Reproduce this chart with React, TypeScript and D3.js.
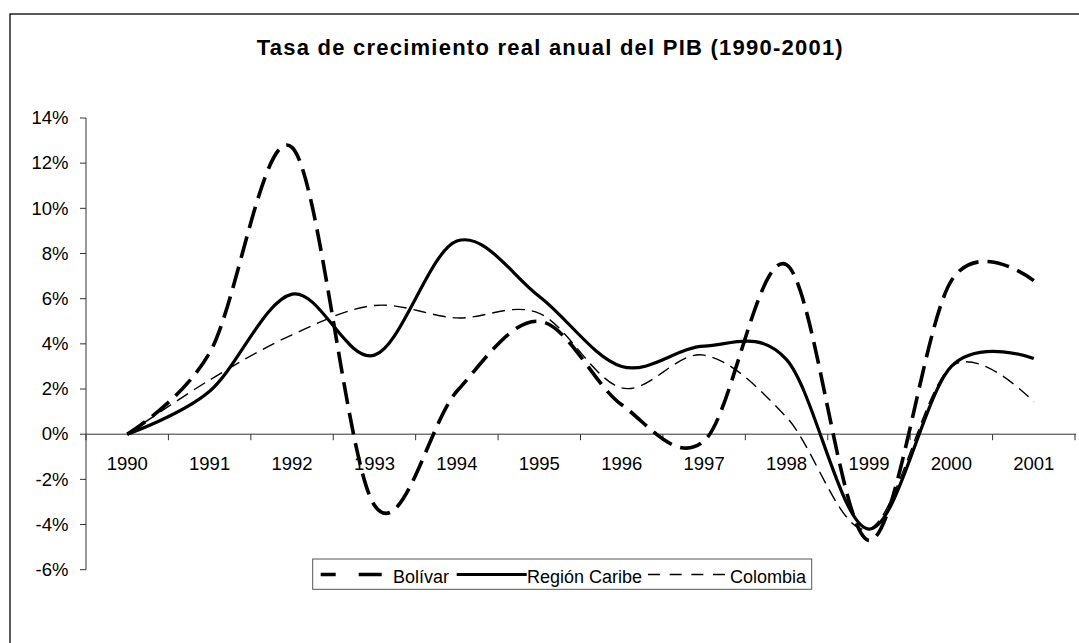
import React from "react";
import * as d3 from "d3";

const years = ["1990","1991","1992","1993","1994","1995","1996","1997","1998","1999","2000","2001"];
const bolivar = [0, 3.6, 12.7, -3.15, 1.9, 5.0, 1.3, -0.3, 7.5, -4.7, 6.8, 6.8];
const caribe = [0, 1.9, 6.2, 3.5, 8.55, 6.1, 3.0, 3.9, 3.3, -4.2, 3.0, 3.35];
const colombia = [0, 2.4, 4.4, 5.7, 5.15, 5.35, 2.05, 3.5, 0.75, -4.2, 3.0, 1.43];
const yTicks = [-6, -4, -2, 0, 2, 4, 6, 8, 10, 12, 14];
const seriesNames = ["Bolívar", "Región Caribe", "Colombia"];

const W = 1079, H = 643;
const FONT = "Arial, 'Liberation Sans', sans-serif";

export default function App() {
  const x = d3.scaleBand<string>().domain(years).range([86, 1075]);
  const y = d3.scaleLinear().domain([-6, 14]).range([569.7, 118]);
  const cx = (i: number) => (x(years[i]) as number) + x.bandwidth() / 2;
  const line = d3.line<number>().x((_, i) => cx(i)).y(d => y(d)).curve(d3.curveCatmullRom.alpha(0));
  const y0 = y(0);
  const boundaries = d3.range(years.length + 1).map(i => 86 + i * x.bandwidth());

  return (
    <svg width={W} height={H} style={{ position: "absolute", left: 0, top: 0, background: "#fff" }}>
      <rect x={10} y={14} width={1200} height={800} fill="#fff" stroke="#000" strokeWidth={1.3} />
      <text x={549.7} y={55} textAnchor="middle" fontFamily={FONT} fontWeight="bold" fontSize={22}
        textLength={586} lengthAdjust="spacing">Tasa de crecimiento real anual del PIB (1990-2001)</text>

      {/* y axis */}
      <line x1={86} x2={86} y1={y(14)} y2={y(-6)} stroke="#333" strokeWidth={1} />
      {yTicks.map(t => (
        <g key={t}>
          <line x1={80} x2={86} y1={y(t)} y2={y(t)} stroke="#333" strokeWidth={1} />
          <text x={68.5} y={y(t) + 6.3} textAnchor="end" fontFamily={FONT} fontSize={18.5} fill="#000">{t}%</text>
        </g>
      ))}

      {/* x axis at zero */}
      <line x1={86} x2={1076} y1={y0} y2={y0} stroke="#333" strokeWidth={1} />
      {boundaries.map((b, i) => (
        <line key={i} x1={b} x2={b} y1={y0} y2={y0 + 6} stroke="#333" strokeWidth={1} />
      ))}
      {years.map((yr, i) => (
        <text key={yr} x={cx(i)} y={469.5} textAnchor="middle" fontFamily={FONT} fontSize={18.5} fill="#000">{yr}</text>
      ))}

      {/* series */}
      <path d={line(colombia) || ""} fill="none" stroke="#000" strokeWidth={1.4} strokeDasharray="13 7" />
      <path d={line(caribe) || ""} fill="none" stroke="#000" strokeWidth={3.2} strokeLinejoin="round" />
      <path d={line(bolivar) || ""} fill="none" stroke="#000" strokeWidth={3.6} strokeDasharray="22 9" />

      {/* legend */}
      <rect x={312.7} y={559} width={499} height={30.3} fill="#fff" stroke="#555" strokeWidth={1} />
      <line x1={320.7} x2={381.7} y1={574.5} y2={574.5} stroke="#000" strokeWidth={3.6} strokeDasharray="15 23 30" />
      <text x={393} y={583} fontFamily={FONT} fontSize={18} fill="#000">{seriesNames[0]}</text>
      <line x1={456.7} x2={526.7} y1={574.5} y2={574.5} stroke="#000" strokeWidth={3.2} />
      <text x={527} y={583} fontFamily={FONT} fontSize={18} fill="#000">{seriesNames[1]}</text>
      <line x1={648} x2={725} y1={574.5} y2={574.5} stroke="#000" strokeWidth={1.4} strokeDasharray="12 9.67" />
      <text x={730} y={583} fontFamily={FONT} fontSize={18} fill="#000">{seriesNames[2]}</text>
    </svg>
  );
}
